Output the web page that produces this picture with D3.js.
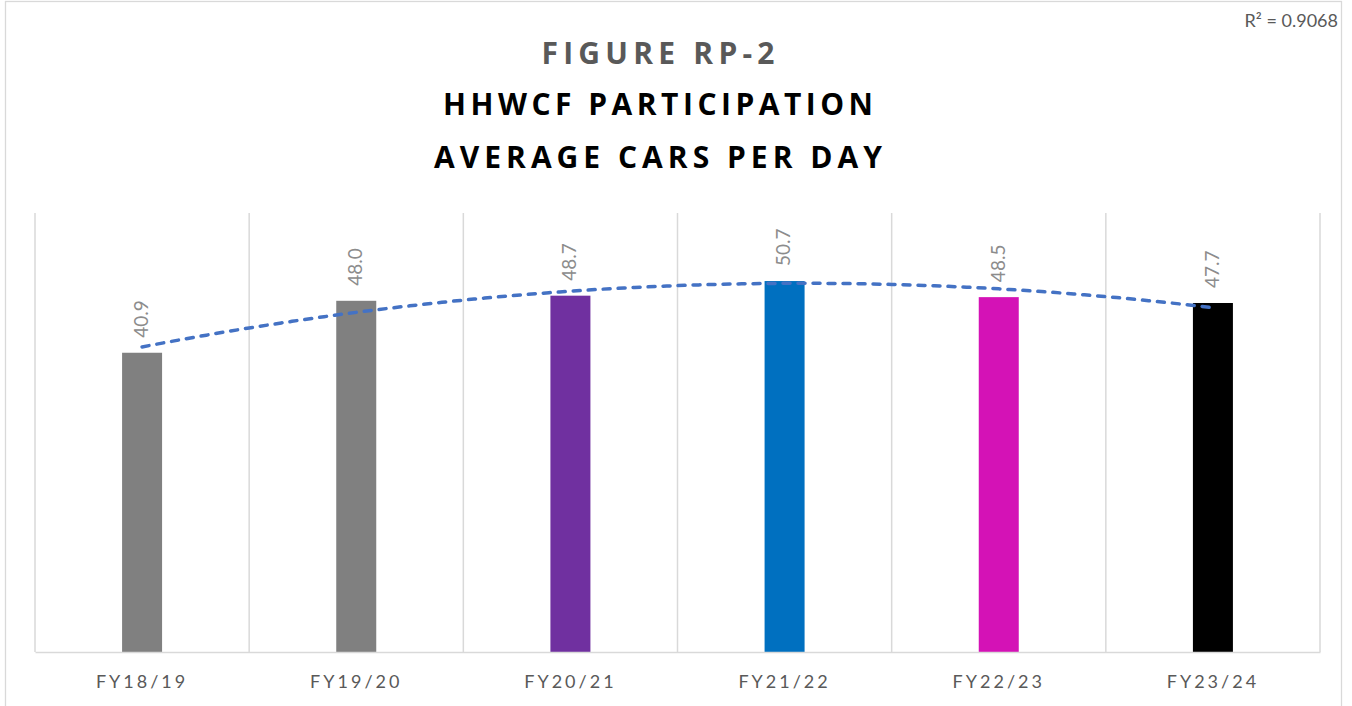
<!DOCTYPE html>
<html>
<head>
<meta charset="utf-8">
<script src="https://cdn.jsdelivr.net/npm/d3@7"></script>
<style>
  html, body { margin: 0; padding: 0; background: #fff; }
  svg { display: block; }
  text { font-family: Lato, "Open Sans", "Liberation Sans", sans-serif; }
</style>
</head>
<body>
<svg id="chart" width="1352" height="706"></svg>
<script>
// ---- data ----
const categories = ["FY18/19", "FY19/20", "FY20/21", "FY21/22", "FY22/23", "FY23/24"];
const values = [40.9, 48.0, 48.7, 50.7, 48.5, 47.7];
const barColors = ["#808080", "#808080", "#7030A0", "#0070C0", "#D412B6", "#000000"];
const titleLines = ["FIGURE RP-2", "HHWCF PARTICIPATION", "AVERAGE CARS PER DAY"];
const r2Label = "R² = 0.9068";
const yDomain = [0, 60];

// ---- layout ----
const W = 1352, H = 706;
const plot = { left: 35, right: 1320, top: 213, bottom: 652 };
const svg = d3.select("#chart");

// chart border
svg.append("rect")
  .attr("x", 5.5).attr("y", 1.5)
  .attr("width", 1336).attr("height", 720)
  .attr("fill", "#fff").attr("stroke", "#d9d9d9").attr("stroke-width", 1.3);

const x = d3.scaleBand().domain(categories).range([plot.left, plot.right]).paddingInner(0).paddingOuter(0);
const y = d3.scaleLinear().domain(yDomain).range([plot.bottom, plot.top]);

// vertical category gridlines
const bounds = categories.map(c => x(c)).concat([x.range()[1]]);
svg.append("g").selectAll("line").data(bounds).join("line")
  .attr("x1", d => d).attr("x2", d => d)
  .attr("y1", plot.top).attr("y2", plot.bottom)
  .attr("stroke", "#d9d9d9").attr("stroke-width", 1.5);

// bars
const barW = 40;
svg.append("g").selectAll("rect").data(values).join("rect")
  .attr("x", (d, i) => x(categories[i]) + x.bandwidth() / 2 - barW / 2)
  .attr("y", d => y(d))
  .attr("width", barW)
  .attr("height", d => y(0) - y(d))
  .attr("fill", (d, i) => barColors[i]);

// category axis
const xAxis = d3.axisBottom(x).tickSize(0).tickPadding(0);
const gx = svg.append("g").attr("transform", `translate(0,${plot.bottom})`).call(xAxis);
gx.select(".domain").attr("stroke", "#d9d9d9").attr("stroke-width", 1.5);
gx.selectAll(".tick text")
  .attr("y", 36).attr("dy", 0)
  .attr("fill", "#595959")
  .style("font-size", "18px")
  .style("letter-spacing", "3px")
  .style("font-family", "Lato, 'Open Sans', sans-serif");

// data labels (rotated)
svg.append("g").selectAll("text").data(values).join("text")
  .attr("transform", (d, i) => `translate(${x(categories[i]) + x.bandwidth() / 2 + 1},${y(d) - 15}) rotate(-90)`)
  .attr("text-anchor", "start")
  .attr("dominant-baseline", "middle")
  .attr("fill", "#8c8c8c")
  .style("font-size", "19px")
  .text(d => d.toFixed(1));

// polynomial (order 2) trendline, least squares fit of the values
const xs = values.map((d, i) => i + 1);
function polyFit2(xv, yv) {
  let S = [0, 0, 0, 0, 0], T = [0, 0, 0];
  xv.forEach((xx, i) => {
    for (let k = 0; k < 5; k++) S[k] += Math.pow(xx, k);
    for (let k = 0; k < 3; k++) T[k] += Math.pow(xx, k) * yv[i];
  });
  const A = [[S[0], S[1], S[2], T[0]], [S[1], S[2], S[3], T[1]], [S[2], S[3], S[4], T[2]]];
  for (let c = 0; c < 3; c++) {
    for (let r = c + 1; r < 3; r++) {
      const f = A[r][c] / A[c][c];
      for (let k = c; k < 4; k++) A[r][k] -= f * A[c][k];
    }
  }
  const coef = [0, 0, 0];
  for (let r = 2; r >= 0; r--) {
    let s = A[r][3];
    for (let k = r + 1; k < 3; k++) s -= A[r][k] * coef[k];
    coef[r] = s / A[r][r];
  }
  return coef;
}
const coef = polyFit2(xs, values);
const xIdx = d3.scaleLinear().domain([1, categories.length])
  .range([x(categories[0]) + x.bandwidth() / 2, x(categories[categories.length - 1]) + x.bandwidth() / 2]);
const trendPts = d3.range(1, categories.length + 0.001, 0.05).map(t => [xIdx(t), y(coef[0] + coef[1] * t + coef[2] * t * t)]);
svg.append("path")
  .attr("d", d3.line()(trendPts))
  .attr("fill", "none")
  .attr("stroke", "#4472C4")
  .attr("stroke-width", 3.5)
  .attr("stroke-linecap", "round")
  .attr("stroke-dasharray", "7,8");

// title
const titleCenter = 658;
const titleSpecs = [
  { y: 64, fill: "#595959", len: 233 },
  { y: 115, fill: "#000000", len: 430 },
  { y: 168, fill: "#000000", len: 448 }
];
svg.append("g").selectAll("text").data(titleLines).join("text")
  .attr("x", titleCenter)
  .attr("y", (d, i) => titleSpecs[i].y)
  .attr("text-anchor", "middle")
  .attr("fill", (d, i) => titleSpecs[i].fill)
  .attr("textLength", (d, i) => titleSpecs[i].len)
  .attr("lengthAdjust", "spacing")
  .style("font-family", "'Open Sans', Lato, sans-serif")
  .style("font-size", "30px")
  .style("font-weight", "bold")
  .text(d => d);

// R² label
svg.append("text")
  .attr("x", 1338).attr("y", 27)
  .attr("text-anchor", "end")
  .attr("fill", "#595959")
  .style("font-size", "18px")
  .text(r2Label);
</script>
</body>
</html>
